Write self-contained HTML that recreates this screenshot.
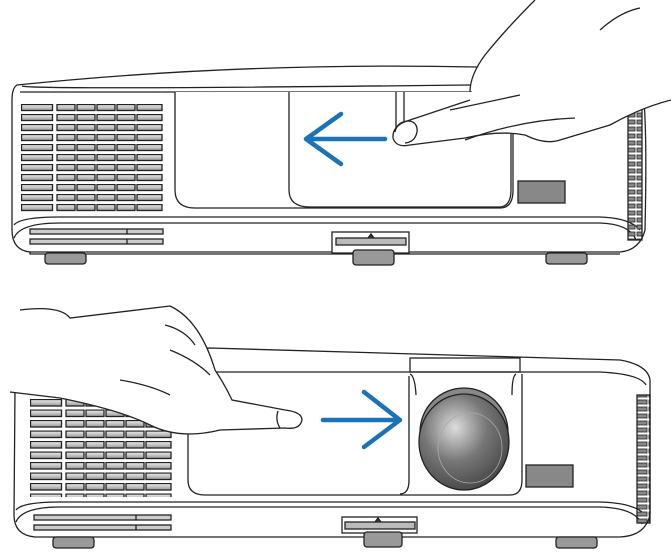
<!DOCTYPE html>
<html><head><style>body{margin:0;background:#fff}svg{display:block}</style></head><body>
<svg width="671" height="560" viewBox="0 0 671 560" xmlns="http://www.w3.org/2000/svg" fill="none" stroke="#222" stroke-width="1.3">
<defs>
<linearGradient id="g" x1="0" y1="0" x2="0" y2="1"><stop offset="0" stop-color="#eee"/><stop offset="1" stop-color="#999"/></linearGradient>
<radialGradient id="lens" cx="0.4" cy="0.35" r="0.7"><stop offset="0" stop-color="#ddd"/><stop offset="0.5" stop-color="#777"/><stop offset="1" stop-color="#444"/></radialGradient>
<pattern id="vent" x="21" y="104" width="142" height="10" patternUnits="userSpaceOnUse">
<rect x="0.5" y="0.5" width="31" height="6" fill="url(#g)"/>
<rect x="36" y="0.5" width="18" height="6" fill="url(#g)"/>
<rect x="56" y="0.5" width="18" height="6" fill="url(#g)"/>
<rect x="76" y="0.5" width="18" height="6" fill="url(#g)"/>
<rect x="96" y="0.5" width="18" height="6" fill="url(#g)"/>
<rect x="116" y="0.5" width="25" height="6" fill="url(#g)"/>
</pattern>
<pattern id="vent2" x="30" y="399" width="142" height="10.5" patternUnits="userSpaceOnUse">
<rect x="0.5" y="0.5" width="31" height="6.5" fill="url(#g)"/>
<rect x="36" y="0.5" width="18" height="6.5" fill="url(#g)"/>
<rect x="56" y="0.5" width="18" height="6.5" fill="url(#g)"/>
<rect x="76" y="0.5" width="18" height="6.5" fill="url(#g)"/>
<rect x="96" y="0.5" width="18" height="6.5" fill="url(#g)"/>
<rect x="116" y="0.5" width="25" height="6.5" fill="url(#g)"/>
</pattern>
<pattern id="sv" x="0" y="0" width="12" height="7" patternUnits="userSpaceOnUse"><rect x="1" y="1" width="10" height="4" fill="#888" stroke="#222" stroke-width="0.8"/></pattern>
</defs>

<!-- ===== TOP PROJECTOR ===== -->
<path d="M17 85 Q240 62 477 67 L640 80 Q648 95 645 230 Q640 250 620 252 L30 252 Q12 250 12 230 L12 100 Q12 88 17 85 Z" fill="#fff"/>
<path d="M20 92 L470 92 Q600 90 638 98"/>
<path d="M22 86 Q30 90 470 85"/>
<rect x="21" y="104" width="142" height="110" fill="url(#vent)" stroke="none"/>
<path d="M175 92 L175 190 Q175 208 195 208 L500 208 Q513 208 513 190 L513 92" fill="#fff"/>
<path d="M289 92 L289 190 Q289 207 310 207 L500 207 Q511 206 511 190 L511 92" fill="#fff"/>
<path d="M396 92 L396 135 M404 92 L404 135"/>
<rect x="518" y="181" width="47" height="22" fill="#888"/>
<path d="M14 225 Q20 217 60 217 L600 217 Q630 218 640 230"/>
<path d="M14 238 Q20 223 60 223 L600 223 Q630 224 636 240"/>
<rect x="30" y="229" width="133" height="5" fill="#ccc"/>
<rect x="30" y="239" width="133" height="5" fill="#ccc"/>
<path d="M127 229 v5 M127 239 v5"/>
<path d="M30 252 L30 254 L620 254"/>
<rect x="332" y="232" width="77" height="21" fill="#fff"/>
<rect x="336" y="238" width="70" height="7" fill="#bbb"/>
<path d="M368 238 l3 -4 l3 4" fill="#333"/>
<rect x="353" y="250" width="41" height="15" rx="3" fill="#999"/>
<rect x="45" y="253" width="41" height="11" rx="3" fill="#999"/>
<rect x="546" y="253" width="41" height="11" rx="3" fill="#999"/>
<rect x="628" y="100" width="14" height="140" fill="url(#sv)"/>
<path d="M306 139 H385 M306 139 L341 114 M306 139 L341 164" stroke="#1a73b8" stroke-width="4.5" stroke-linecap="round" stroke-linejoin="round"/>
<!-- hand top -->
<path d="M535 0 Q505 30 485 55 Q470 75 472 100 L410 120 Q392 125 393 138 Q396 148 410 145 L465 138 Q500 130 525 135 Q550 145 560 140 L620 120 Q650 105 671 100 L671 0 Z" fill="#fff" stroke="none"/>
<path d="M535 0 Q505 30 485 55 Q470 75 470 92 M470 100 L410 120 Q392 125 393 138 Q396 148 410 145 L465 138 Q500 130 525 135 Q545 145 560 140 L610 125 Q640 108 671 100"/>
<path d="M520 95 L450 110 M465 140 Q520 120 575 118"/>
<path d="M395 132 Q397 121 410 121 Q418 123 417 132 Q415 142 405 143"/>
<path d="M600 30 Q620 12 640 8"/>

<!-- ===== BOTTOM PROJECTOR ===== -->
<path d="M15 390 Q20 350 210 348 L620 360 Q648 365 650 380 L650 515 Q645 536 620 537 L35 537 Q14 535 14 515 Z" fill="#fff"/>
<path d="M200 372 L600 372 Q640 374 646 385"/>
<rect x="30" y="399" width="142" height="98" fill="url(#vent2)" stroke="none"/>
<path d="M188 374 L188 480 Q188 495 205 495 L510 495 Q522 495 522 480 L522 374" fill="#fff"/>
<path d="M409 376 L409 480 Q409 494 400 494 M410 374 Q415 376 416 395"/>
<path d="M516 374 Q512 376 512 395"/>
<rect x="410" y="358" width="110" height="14"/>
<ellipse cx="464" cy="432" rx="44" ry="44" fill="#888"/>
<ellipse cx="464" cy="442" rx="45" ry="48" fill="url(#lens)"/>
<ellipse cx="470" cy="448" rx="32" ry="35" stroke="#aaa" stroke-width="0.8"/>
<rect x="526" y="465" width="47" height="22" fill="#888"/>
<path d="M16 510 Q22 502 60 502 L600 502 Q635 503 645 515"/>
<path d="M16 522 Q22 507 60 507 L600 507 Q635 508 642 524"/>
<rect x="34" y="515" width="137" height="5" fill="#ccc"/>
<rect x="34" y="525" width="137" height="5" fill="#ccc"/>
<path d="M136 515 v5 M136 525 v5"/>
<rect x="342" y="517" width="75" height="16" fill="#fff"/>
<rect x="345" y="522" width="70" height="7" fill="#bbb"/>
<path d="M375 522 l3 -4 l3 4" fill="#333"/>
<rect x="364" y="532" width="38" height="15" rx="3" fill="#999"/>
<rect x="53" y="537" width="41" height="11" rx="3" fill="#999"/>
<rect x="556" y="537" width="41" height="11" rx="3" fill="#999"/>
<rect x="637" y="395" width="13" height="128" fill="url(#sv)"/>
<path d="M323 420 H400 M400 420 L364 392 M400 420 L364 447" stroke="#1a73b8" stroke-width="4.5" stroke-linecap="round" stroke-linejoin="round"/>
<!-- hand bottom -->
<path d="M20 310 Q60 305 70 318 Q120 312 170 306 Q200 320 215 370 Q225 385 232 400 L285 410 Q302 412 302 420 Q300 430 285 428 L220 430 Q180 440 150 425 Q120 410 70 400 L10 392 L10 310 Z" fill="#fff" stroke="none"/>
<path d="M20 310 Q60 305 70 318 Q120 312 170 306 Q200 320 215 370 Q225 385 232 400 L285 410 Q302 412 302 420 Q300 430 285 428 L220 430 Q180 440 150 425 Q120 410 60 398 L10 392"/>
<path d="M165 325 Q185 330 195 345 M170 350 Q195 360 210 375 M120 380 Q150 385 170 395"/>
<path d="M278 411 Q275 420 280 428"/>
</svg>
</body></html>
